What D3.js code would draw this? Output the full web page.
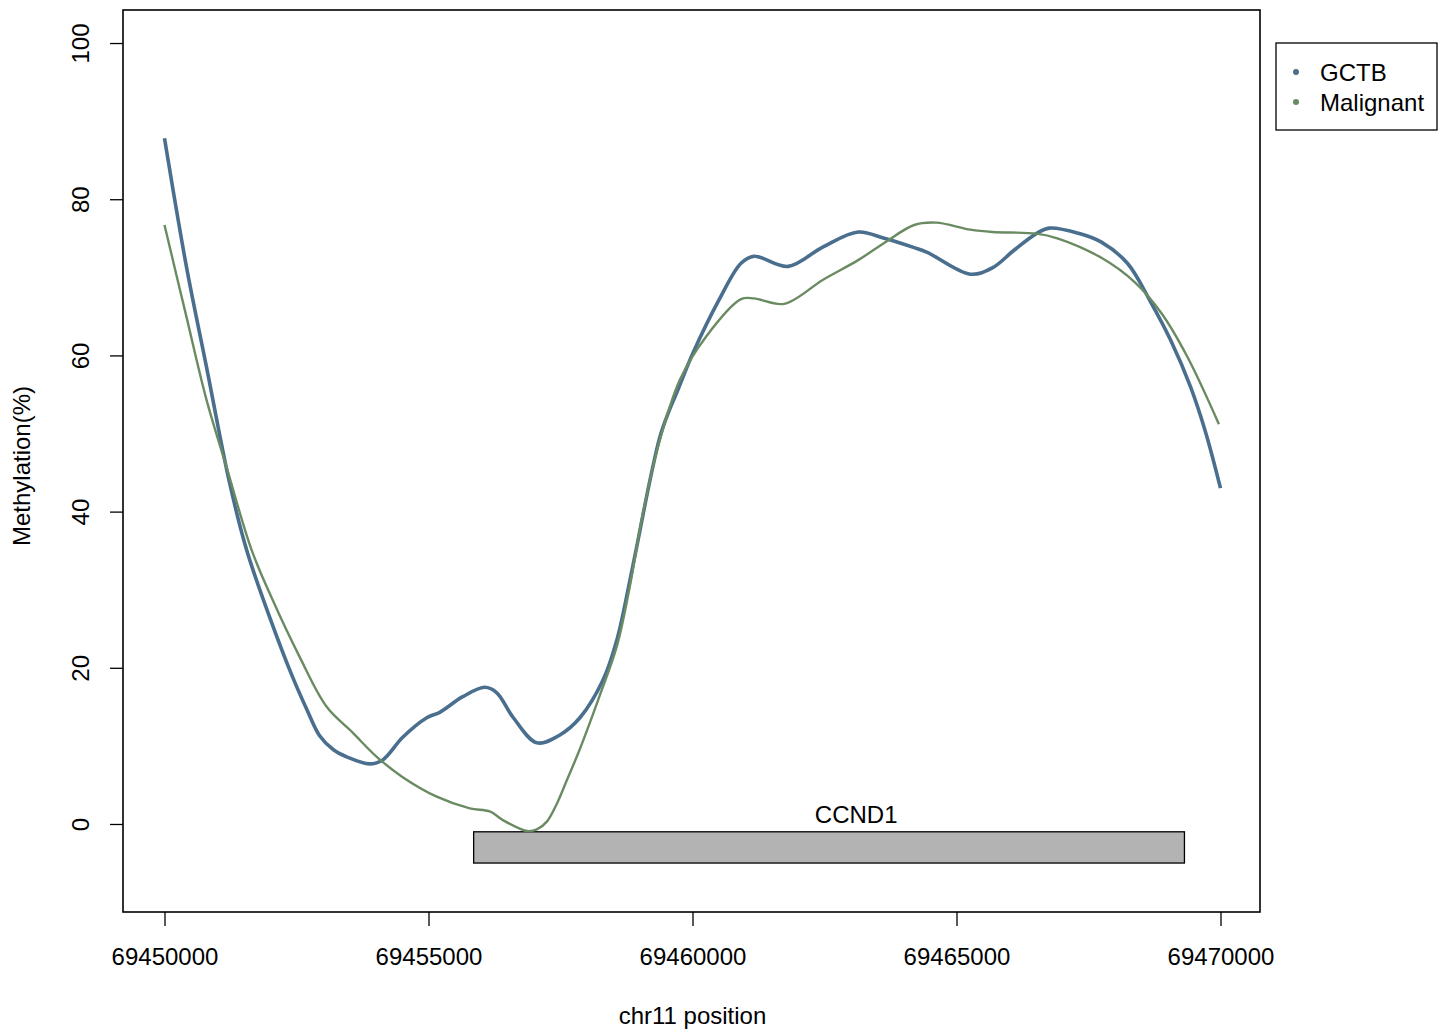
<!DOCTYPE html>
<html>
<head>
<meta charset="utf-8">
<script src="https://cdn.jsdelivr.net/npm/d3@7"></script>
<style>
  html, body { margin: 0; padding: 0; background: #ffffff; }
  svg { display: block; font-family: "Liberation Sans", Arial, Helvetica, sans-serif; }
</style>
</head>
<body>
<svg id="chart" width="1447" height="1032"></svg>
<script>
// Smoothed methylation profiles across the CCND1 locus (chr11)
const gctbPos = [69450000, 69450417, 69450796, 69451232, 69451555, 69451991, 69452427, 69452700,
  69452938, 69453200, 69453450, 69453886, 69454133, 69454512, 69454967, 69455213, 69455649,
  69456066, 69456294, 69456597, 69457052, 69457488, 69457867, 69458303, 69458569, 69458815,
  69459005, 69459194, 69459384, 69459545, 69459706, 69460009, 69460502, 69460919, 69461166,
  69461810, 69462474, 69463137, 69463630, 69464199, 69464445, 69465261, 69465678, 69466095,
  69466512, 69466758, 69467327, 69467744, 69468237, 69468673, 69469052, 69469431, 69469716,
  69470000];
const gctbMeth = [87.8, 71.3, 58.5, 43.7, 35.1, 26.5, 18.8, 14.6,
  11.3, 9.5, 8.6, 7.7, 8.2, 11.1, 13.6, 14.3, 16.3,
  17.5, 16.8, 13.7, 10.4, 11.4, 13.6, 18.4, 23.6, 31.2,
  37.6, 44.0, 49.6, 52.7, 55.3, 60.3, 67.1, 71.8, 72.7,
  71.4, 73.9, 75.8, 75.0, 73.8, 73.2, 70.4, 71.2, 73.5,
  75.6, 76.3, 75.6, 74.5, 71.8, 66.9, 62.0, 56.0, 50.2,
  43.0];

const malPos = [69450000, 69450417, 69450796, 69451175, 69451649, 69452047, 69452559, 69453071,
  69453564, 69454019, 69454512, 69455156, 69455782, 69456161, 69456408, 69456863, 69457052,
  69457241, 69457431, 69457620, 69457867, 69458246, 69458569, 69458815, 69459024, 69459346,
  69459763, 69460256, 69460919, 69461166, 69461735, 69462474, 69463137, 69463630, 69464199,
  69464616, 69465261, 69465678, 69466512, 69466910, 69467744, 69468389, 69468882, 69469374,
  69469970];
const malMeth = [76.7, 64.9, 54.3, 45.7, 35.1, 28.7, 21.4, 15.0,
  11.7, 8.6, 6.0, 3.5, 2.0, 1.6, 0.5, -0.9, -0.7,
  0.3, 2.6, 5.6, 9.6, 16.5, 22.8, 30.5, 38.5, 48.3,
  56.9, 62.4, 67.2, 67.3, 66.6, 69.7, 72.2, 74.4, 76.7,
  77.0, 76.1, 75.8, 75.6, 75.0, 72.5, 69.3, 65.4, 59.8,
  51.2];

const seriesNames = ["GCTB", "Malignant"];
const seriesColors = ["#4a6f8e", "#6a8b62"];

const xTicks = [69450000, 69455000, 69460000, 69465000, 69470000];
const yTicks = [0, 20, 40, 60, 80, 100];

// Gene annotation track
const geneName = ["CCND1"];
const geneStart = [69455855];
const geneEnd = [69469317];
const geneLabelPos = [69463100];
const geneTop = [-1];
const geneBottom = [-5];

const xLabel = "chr11 position";
const yLabel = "Methylation(%)";

const svg = d3.select("#chart");
const L = 123, R = 1260, T = 10, B = 912;

const x = d3.scaleLinear().domain([69449214, 69470748]).range([L, R]);
const y = d3.scaleLinear().domain([-11.27, 104.23]).range([B, T]);

// gene body
const g = svg.append("g");
g.selectAll("rect.gene").data(geneName).join("rect")
  .attr("class", "gene")
  .attr("x", (d, i) => x(geneStart[i]))
  .attr("y", (d, i) => y(geneTop[i]))
  .attr("width", (d, i) => x(geneEnd[i]) - x(geneStart[i]))
  .attr("height", (d, i) => y(geneBottom[i]) - y(geneTop[i]))
  .attr("fill", "#b3b3b3")
  .attr("stroke", "#000")
  .attr("stroke-width", 1.3);
g.selectAll("text.gene").data(geneName).join("text")
  .attr("class", "gene")
  .attr("x", (d, i) => x(geneLabelPos[i]))
  .attr("y", y(geneTop[0]) - 9)
  .attr("text-anchor", "middle")
  .attr("font-size", 24)
  .text(d => d);

// methylation curves
const line = d3.line()
  .x(d => x(d[0]))
  .y(d => y(d[1]))
  .curve(d3.curveCatmullRom.alpha(0.5));

const malData = malPos.map((p, i) => [p, malMeth[i]]);
const gctbData = gctbPos.map((p, i) => [p, gctbMeth[i]]);

svg.append("path").datum(gctbData)
  .attr("d", line)
  .attr("fill", "none")
  .attr("stroke", seriesColors[0])
  .attr("stroke-width", 3.6)
  .attr("stroke-linejoin", "round");

svg.append("path").datum(malData)
  .attr("d", line)
  .attr("fill", "none")
  .attr("stroke", seriesColors[1])
  .attr("stroke-width", 2.4)
  .attr("stroke-linejoin", "round");

// plot frame
svg.append("rect")
  .attr("x", L).attr("y", T)
  .attr("width", R - L).attr("height", B - T)
  .attr("fill", "none").attr("stroke", "#000").attr("stroke-width", 1.6);

// x axis
const xAxis = d3.axisBottom(x).tickValues(xTicks).tickSize(14).tickPadding(22)
  .tickFormat(d3.format("d"));
const xa = svg.append("g").attr("transform", `translate(0,${B})`).call(xAxis);
xa.select(".domain").remove();
xa.selectAll(".tick line").attr("stroke", "#000").attr("stroke-width", 1.3);
xa.selectAll(".tick text").attr("font-size", 24).attr("fill", "#000")
  .attr("font-family", "'Liberation Sans', Arial, Helvetica, sans-serif");

// y axis
const yAxis = d3.axisLeft(y).tickValues(yTicks).tickSize(13).tickFormat(d3.format("d"));
const ya = svg.append("g").attr("transform", `translate(${L},0)`).call(yAxis);
ya.select(".domain").remove();
ya.selectAll(".tick line").attr("stroke", "#000").attr("stroke-width", 1.3);
ya.selectAll(".tick text")
  .attr("font-size", 24).attr("fill", "#000")
  .attr("font-family", "'Liberation Sans', Arial, Helvetica, sans-serif")
  .attr("text-anchor", "middle")
  .attr("dy", null)
  .attr("x", null)
  .attr("transform", "translate(-34,0) rotate(-90)");

// axis titles
svg.append("text")
  .attr("x", x(69460000)).attr("y", 1024)
  .attr("text-anchor", "middle").attr("font-size", 24)
  .text(xLabel);
svg.append("text")
  .attr("transform", `translate(30,${(T + B) / 2 + 5}) rotate(-90)`)
  .attr("text-anchor", "middle").attr("font-size", 24)
  .text(yLabel);

// legend
const lg = svg.append("g");
lg.append("rect")
  .attr("x", 1276).attr("y", 43).attr("width", 161).attr("height", 87)
  .attr("fill", "#fff").attr("stroke", "#000").attr("stroke-width", 1.3);
const items = lg.selectAll("g.item").data(seriesNames).join("g")
  .attr("class", "item")
  .attr("transform", (d, i) => `translate(0,${72 + i * 30})`);
items.append("circle").attr("cx", 1296).attr("cy", 0).attr("r", 3)
  .attr("fill", (d, i) => seriesColors[i]);
items.append("text").attr("x", 1320).attr("y", 8.5).attr("font-size", 24)
  .text(d => d);
</script>
</body>
</html>
